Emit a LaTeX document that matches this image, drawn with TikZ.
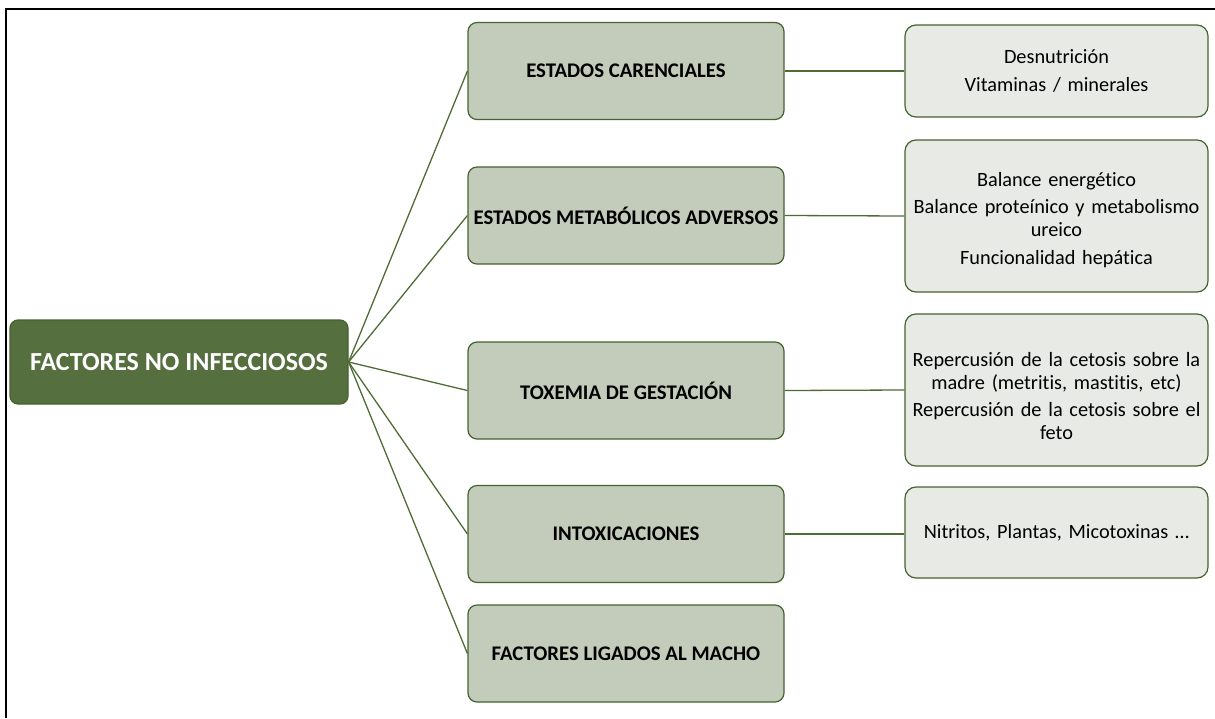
\documentclass[tikz,border=0pt]{standalone}
\usepackage{fontspec}
\setmainfont[Ligatures=NoCommon]{Carlito}
\definecolor{edge}{HTML}{45622F}
\definecolor{linkc}{HTML}{4F6C37}
\definecolor{rootfill}{HTML}{556F3F}
\definecolor{midfill}{HTML}{C3CCBA}
\definecolor{subfill}{HTML}{E8EAE5}
\begin{document}
\begin{tikzpicture}[x=1pt,y=-1pt,
  rootbox/.style={draw=edge, fill=rootfill, rounded corners=8pt, line width=1.2pt,
    minimum width=338pt, minimum height=84pt, text=white, inner sep=0pt,
    font=\fontsize{26}{30}\selectfont\bfseries},
  midbox/.style={draw=edge, fill=midfill, rounded corners=9pt, line width=1.2pt,
    minimum width=316pt, minimum height=97pt, inner sep=0pt,
    font=\fontsize{20.8}{24}\selectfont\bfseries},
  subbox/.style={draw=edge, fill=subfill, rounded corners=11pt, line width=1.2pt,
    minimum width=303pt, text width=300pt, inner xsep=1.5pt, inner ysep=0pt, align=center,
    font=\fontsize{20.3}{23.5}\selectfont},
  link/.style={draw=linkc, line width=1.3pt},
  frameline/.style={draw=black, line width=2.5pt}]
\useasboundingbox (0,0) rectangle (1215,718);
\coordinate (ftr) at (1215,9);
\coordinate (ftl) at (6,9);
\coordinate (fbl) at (6,718);
\draw[frameline] (ftr) -- (ftl) -- (fbl);

\node[rootbox] (root) at (179,362) {FACTORES NO INFECCIOSOS};

\node[midbox] (m1) at (626,71) {ESTADOS CARENCIALES};
\node[midbox] (m2) at (626,215.5) {ESTADOS METABÓLICOS ADVERSOS};
\node[midbox] (m3) at (626,390.5) {TOXEMIA DE GESTACIÓN};
\node[midbox] (m4) at (626,534) {INTOXICACIONES};
\node[midbox] (m5) at (626,653.5) {FACTORES LIGADOS AL MACHO};

\node[subbox, minimum height=92pt] (s1) at (1056.5,71) {Desnutrición\\[5pt]Vitaminas / minerales};
\node[subbox, minimum height=152pt] (s2) at (1056.5,216) {\rule{0pt}{22pt}Balance energético\\[3pt]Balance proteínico y metabolismo\\ureico\\[4pt]Funcionalidad hepática};
\node[subbox, minimum height=152pt] (s3) at (1056.5,390) {\rule{0pt}{26pt}Repercusión de la cetosis sobre la\\madre (metritis, mastitis, etc)\\[3pt]Repercusión de la cetosis sobre el\\feto};
\node[subbox, minimum height=91pt] (s4) at (1056.5,532.5) {Nitritos, Plantas, Micotoxinas …};

\foreach \m in {m1,m2,m3,m4,m5} \draw[link] (root.east) -- (\m.west);
\draw[link] (m1.east) -- (s1.west);
\draw[link] (m2.east) -- (s2.west);
\draw[link] (m3.east) -- (s3.west);
\draw[link] (m4.east) -- (m4.east -| s4.west);
\end{tikzpicture}
\end{document}
